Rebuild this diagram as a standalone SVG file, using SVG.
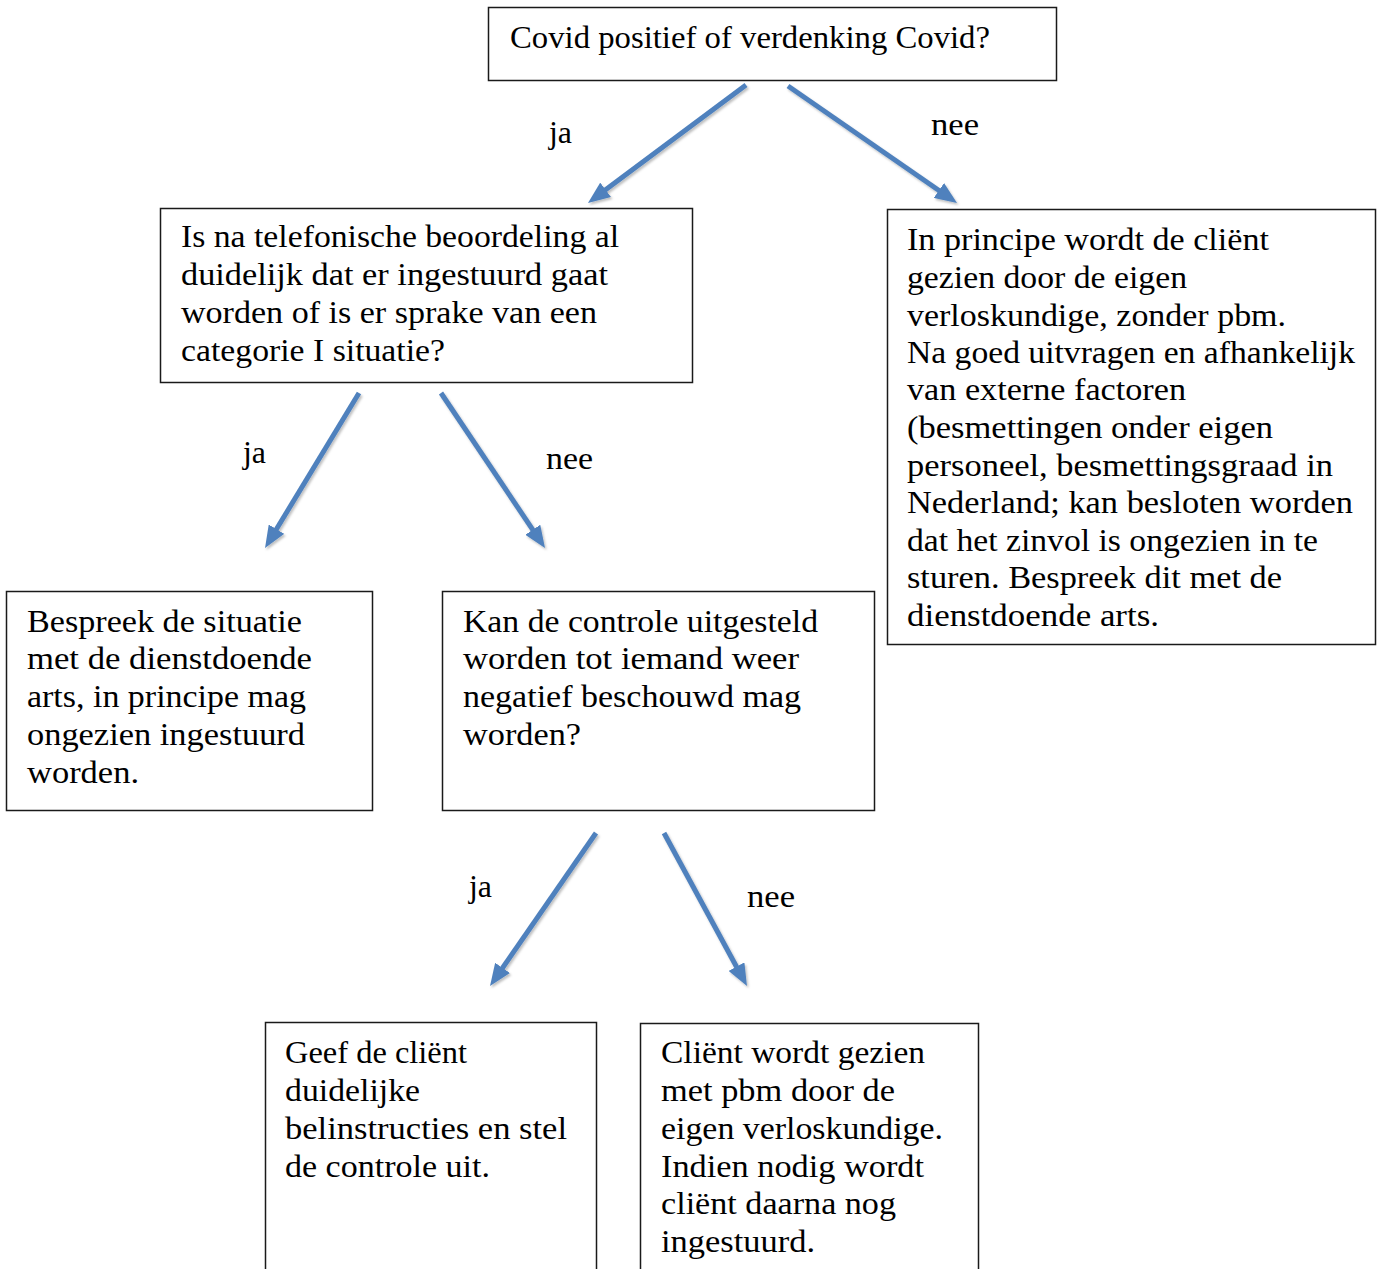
<svg xmlns="http://www.w3.org/2000/svg" width="1378" height="1269" viewBox="0 0 1378 1269">
<style>
.box{fill:#fff;stroke:#1a1a1a;stroke-width:1.5}
.t{font-family:"Liberation Serif","Times New Roman",serif;font-size:32px;fill:#000}
.lbl{font-family:"Liberation Serif","Times New Roman",serif;font-size:32px;fill:#000}
.arr{stroke:#4f81bd;stroke-width:5;fill:none;marker-end:url(#ah);filter:url(#sh)}
</style>
<defs>
<marker id="ah" viewBox="0 0 22 18" markerUnits="userSpaceOnUse" markerWidth="22" markerHeight="18" refX="8" refY="9" orient="auto">
<path d="M0,0 L22,9 L0,18 Z" fill="#4f81bd"/>
</marker>
<filter id="sh" x="-20%" y="-20%" width="140%" height="140%">
<feDropShadow dx="1.5" dy="2" stdDeviation="1.2" flood-color="#000" flood-opacity="0.25"/>
</filter>
</defs>

<g id="connectors">
<line class="arr" x1="746" y1="85" x2="599.2" y2="194.6"/>
<line class="arr" x1="788" y1="86" x2="945.5" y2="195"/>
<line class="arr" x1="359" y1="393" x2="272.3" y2="536"/>
<line class="arr" x1="441" y1="393" x2="537.2" y2="536.4"/>
<line class="arr" x1="596" y1="833" x2="498" y2="974.5"/>
<line class="arr" x1="664" y1="833" x2="740.3" y2="973.7"/>
<text class="lbl" x="549" y="143" textLength="23" lengthAdjust="spacingAndGlyphs">ja</text>
<text class="lbl" x="931" y="135" textLength="48" lengthAdjust="spacingAndGlyphs">nee</text>
<text class="lbl" x="243" y="463" textLength="23" lengthAdjust="spacingAndGlyphs">ja</text>
<text class="lbl" x="546" y="469" textLength="47" lengthAdjust="spacingAndGlyphs">nee</text>
<text class="lbl" x="469" y="897" textLength="23" lengthAdjust="spacingAndGlyphs">ja</text>
<text class="lbl" x="747" y="907" textLength="48" lengthAdjust="spacingAndGlyphs">nee</text>
</g>

<g id="n1">
<rect class="box" x="488.5" y="7.5" width="568" height="73"/>
<text class="t" x="510" y="48" textLength="480" lengthAdjust="spacingAndGlyphs">Covid positief of verdenking Covid?</text>
</g>

<g id="n2">
<rect class="box" x="160.5" y="208.5" width="532" height="174"/>
<text class="t" x="181" y="247" textLength="438" lengthAdjust="spacingAndGlyphs">Is na telefonische beoordeling al</text>
<text class="t" x="181" y="285" textLength="427" lengthAdjust="spacingAndGlyphs">duidelijk dat er ingestuurd gaat</text>
<text class="t" x="181" y="323" textLength="416" lengthAdjust="spacingAndGlyphs">worden of is er sprake van een</text>
<text class="t" x="181" y="361" textLength="264" lengthAdjust="spacingAndGlyphs">categorie I situatie?</text>
</g>

<g id="n3">
<rect class="box" x="887.5" y="209.5" width="488" height="435"/>
<text class="t" x="907" y="250" textLength="362" lengthAdjust="spacingAndGlyphs">In principe wordt de cliënt</text>
<text class="t" x="907" y="288" textLength="280" lengthAdjust="spacingAndGlyphs">gezien door de eigen</text>
<text class="t" x="907" y="326" textLength="379" lengthAdjust="spacingAndGlyphs">verloskundige, zonder pbm.</text>
<text class="t" x="907" y="363" textLength="448" lengthAdjust="spacingAndGlyphs">Na goed uitvragen en afhankelijk</text>
<text class="t" x="907" y="400" textLength="279" lengthAdjust="spacingAndGlyphs">van externe factoren</text>
<text class="t" x="907" y="438" textLength="366" lengthAdjust="spacingAndGlyphs">(besmettingen onder eigen</text>
<text class="t" x="907" y="476" textLength="426" lengthAdjust="spacingAndGlyphs">personeel, besmettingsgraad in</text>
<text class="t" x="907" y="513" textLength="446" lengthAdjust="spacingAndGlyphs">Nederland; kan besloten worden</text>
<text class="t" x="907" y="551" textLength="411" lengthAdjust="spacingAndGlyphs">dat het zinvol is ongezien in te</text>
<text class="t" x="907" y="588" textLength="375" lengthAdjust="spacingAndGlyphs">sturen. Bespreek dit met de</text>
<text class="t" x="907" y="626" textLength="252" lengthAdjust="spacingAndGlyphs">dienstdoende arts.</text>
</g>

<g id="n4">
<rect class="box" x="6.5" y="591.5" width="366" height="219"/>
<text class="t" x="27" y="632" textLength="275" lengthAdjust="spacingAndGlyphs">Bespreek de situatie</text>
<text class="t" x="27" y="669" textLength="285" lengthAdjust="spacingAndGlyphs">met de dienstdoende</text>
<text class="t" x="27" y="707" textLength="279" lengthAdjust="spacingAndGlyphs">arts, in principe mag</text>
<text class="t" x="27" y="745" textLength="278" lengthAdjust="spacingAndGlyphs">ongezien ingestuurd</text>
<text class="t" x="27" y="783" textLength="112" lengthAdjust="spacingAndGlyphs">worden.</text>
</g>

<g id="n5">
<rect class="box" x="442.5" y="591.5" width="432" height="219"/>
<text class="t" x="463" y="632" textLength="355" lengthAdjust="spacingAndGlyphs">Kan de controle uitgesteld</text>
<text class="t" x="463" y="669" textLength="336" lengthAdjust="spacingAndGlyphs">worden tot iemand weer</text>
<text class="t" x="463" y="707" textLength="338" lengthAdjust="spacingAndGlyphs">negatief beschouwd mag</text>
<text class="t" x="463" y="745" textLength="118" lengthAdjust="spacingAndGlyphs">worden?</text>
</g>

<g id="n6">
<rect class="box" x="265.5" y="1022.5" width="331" height="270"/>
<text class="t" x="285" y="1063" textLength="182" lengthAdjust="spacingAndGlyphs">Geef de cliënt</text>
<text class="t" x="285" y="1101" textLength="135" lengthAdjust="spacingAndGlyphs">duidelijke</text>
<text class="t" x="285" y="1139" textLength="282" lengthAdjust="spacingAndGlyphs">belinstructies en stel</text>
<text class="t" x="285" y="1177" textLength="205" lengthAdjust="spacingAndGlyphs">de controle uit.</text>
</g>

<g id="n7">
<rect class="box" x="640.5" y="1023.5" width="338" height="270"/>
<text class="t" x="661" y="1063" textLength="264" lengthAdjust="spacingAndGlyphs">Cliënt wordt gezien</text>
<text class="t" x="661" y="1101" textLength="234" lengthAdjust="spacingAndGlyphs">met pbm door de</text>
<text class="t" x="661" y="1139" textLength="282" lengthAdjust="spacingAndGlyphs">eigen verloskundige.</text>
<text class="t" x="661" y="1177" textLength="263" lengthAdjust="spacingAndGlyphs">Indien nodig wordt</text>
<text class="t" x="661" y="1214" textLength="235" lengthAdjust="spacingAndGlyphs">cliënt daarna nog</text>
<text class="t" x="661" y="1252" textLength="154" lengthAdjust="spacingAndGlyphs">ingestuurd.</text>
</g>
</svg>
